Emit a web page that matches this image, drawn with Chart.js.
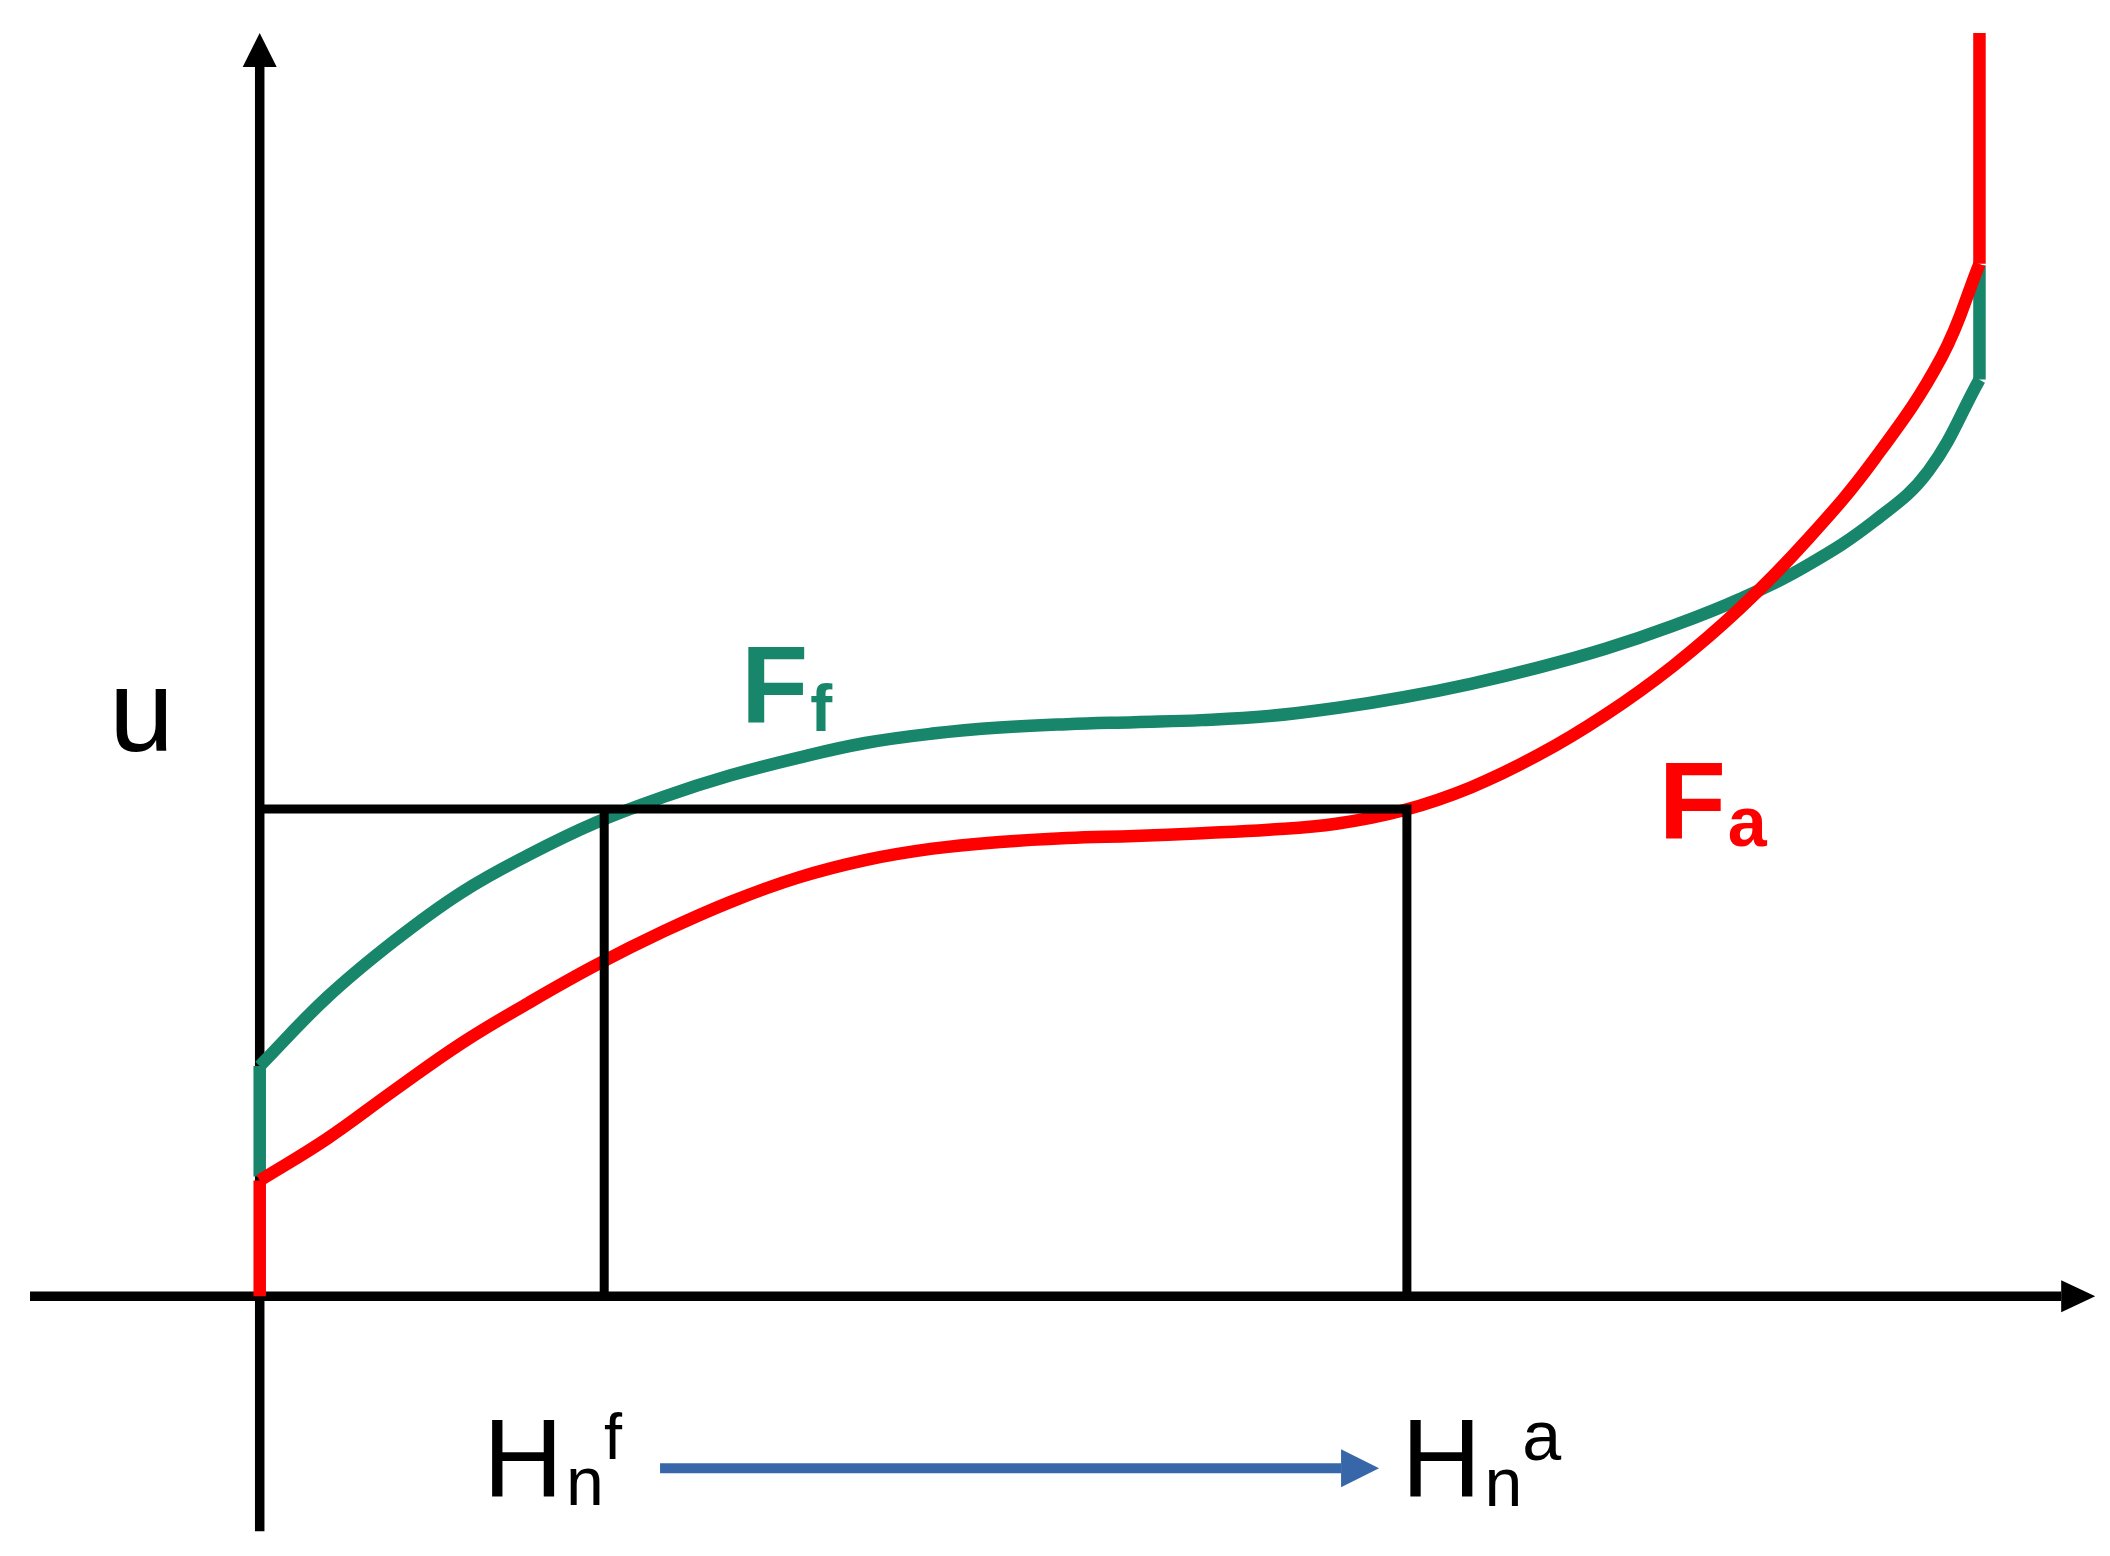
<!DOCTYPE html>
<html>
<head>
<meta charset="utf-8">
<title>Ff / Fa</title>
<script src="https://cdn.jsdelivr.net/npm/chart.js@4.4.1/dist/chart.umd.min.js"></script>
<style>
	html, body { margin: 0; padding: 0; background: #ffffff; }
	canvas { display: block; }
</style>
</head>
<body>
<canvas id="diagram" width="2110" height="1556"></canvas>
<script>
// values (H along x, u along y, origin at the axes crossing)
var greenH = [0, 0.5, 1.0, 1.5, 2.0, 2.5, 3.0, 3.5, 4.0, 4.5, 5.0, 5.5, 6.0, 6.5, 7.0, 7.5, 8.0, 8.5, 9.0, 9.5, 10.0, 10.5, 11.0, 11.5, 12.0, 12.4, 12.78];
var greenU = [1.71, 2.22, 2.64, 3.00, 3.28, 3.52, 3.71, 3.87, 4.00, 4.11, 4.18, 4.225, 4.25, 4.265, 4.28, 4.31, 4.37, 4.45, 4.55, 4.67, 4.81, 4.98, 5.18, 5.43, 5.76, 6.13, 6.81];
var redH = [0, 0.5, 1.0, 1.5, 2.0, 2.5, 3.0, 3.5, 4.0, 4.5, 5.0, 5.5, 6.0, 6.5, 7.0, 7.5, 8.0, 8.5, 9.0, 9.5, 10.0, 10.5, 11.0, 11.5, 12.0, 12.5, 12.78];
var redU = [0.86, 1.17, 1.53, 1.88, 2.18, 2.46, 2.71, 2.93, 3.11, 3.24, 3.325, 3.375, 3.405, 3.42, 3.44, 3.465, 3.51, 3.61, 3.78, 4.02, 4.32, 4.68, 5.11, 5.62, 6.22, 6.98, 7.67];
// vertical jumps at both ends: [h, uFrom, uTo]
var greenJumps = [[0, 0.89, 1.71], [12.78, 6.81, 7.66]];
var redJumps = [[0, 0, 0.86], [12.78, 7.67, 9.385]];
// the chosen level u and the two H values it meets
var uLevel = 3.62;
var hF = 2.56;
var hA = 8.525;

( function () {
	'use strict';

	var GREEN = '#17866a';
	var RED = '#ff0000';
	var BLUE = '#3767a8';
	var FONT = '"Liberation Sans", Arial, sans-serif';

	function pts( xs, ys ) {
		return xs.map( function ( x, i ) { return { x: x, y: ys[ i ] }; } );
	}

	function jumpSets( jumps, colour, order ) {
		return jumps.map( function ( j ) {
			return {
				data: [ { x: j[ 0 ], y: j[ 1 ] }, { x: j[ 0 ], y: j[ 2 ] } ],
				borderColor: colour,
				borderWidth: 12.5,
				tension: 0,
				order: order
			};
		} );
	}

	var datasets = [
		{
			data: [ { x: 0, y: uLevel }, { x: hA, y: uLevel }, { x: hA, y: 0 } ],
			borderColor: '#000000', borderWidth: 9, tension: 0, order: 0,
			borderJoinStyle: 'miter'
		},
		{
			data: [ { x: hF, y: uLevel }, { x: hF, y: 0 } ],
			borderColor: '#000000', borderWidth: 9, tension: 0, order: 0
		},
		{ data: pts( redH, redU ), borderColor: RED, borderWidth: 12.5, tension: 0.4, order: 1 },
		{ data: pts( greenH, greenU ), borderColor: GREEN, borderWidth: 12.5, tension: 0.4, order: 2 }
	].concat( jumpSets( redJumps, RED, 1 ), jumpSets( greenJumps, GREEN, 2 ) );

	datasets.forEach( function ( d ) {
		d.showLine = true;
		d.pointRadius = 0;
		d.borderCapStyle = 'butt';
		d.clip = false;
	} );

	// labels: anchor in data units, pieces placed one after another
	var labels = [
		{ x: -1.12, y: 4.049, color: '#000', parts: [ { t: 'u', size: 117 } ] },
		{ x: 3.577, y: 4.257, color: GREEN, bold: true, parts: [ { t: 'F', size: 110 }, { t: 'f', size: 66, dy: 8, gap: 2 } ] },
		{ x: 10.396, y: 3.40, color: RED, bold: true, parts: [ { t: 'F', size: 110 }, { t: 'a', size: 70, dy: 7, gap: 2 } ] },
		{ x: 1.659, y: -1.49, color: '#000', parts: [ { t: 'H', size: 111 }, { t: 'n', size: 68, dy: 8, gap: 3 }, { t: 'f', size: 65, dy: -38 } ] },
		{ x: 8.483, y: -1.49, color: '#000', parts: [ { t: 'H', size: 111 }, { t: 'n', size: 68, dy: 9, gap: 3 }, { t: 'a', size: 70, dy: -37 } ] }
	];

	function arrow( ctx, x1, y1, x2, y2, width, headLen, headHalf, colour ) {
		var ang = Math.atan2( y2 - y1, x2 - x1 );
		var bx = x2 - Math.cos( ang ) * headLen;
		var by = y2 - Math.sin( ang ) * headLen;
		ctx.save();
		ctx.strokeStyle = colour;
		ctx.fillStyle = colour;
		ctx.lineWidth = width;
		ctx.lineCap = 'butt';
		ctx.beginPath();
		ctx.moveTo( x1, y1 );
		ctx.lineTo( bx, by );
		ctx.stroke();
		ctx.beginPath();
		ctx.moveTo( x2, y2 );
		ctx.lineTo( bx - Math.sin( ang ) * headHalf, by + Math.cos( ang ) * headHalf );
		ctx.lineTo( bx + Math.sin( ang ) * headHalf, by - Math.cos( ang ) * headHalf );
		ctx.closePath();
		ctx.fill();
		ctx.restore();
	}

	var decor = {
		id: 'decor',
		beforeDatasetsDraw: function ( chart ) {
			var ctx = chart.ctx;
			var sx = chart.scales.x, sy = chart.scales.y;
			var ox = sx.getPixelForValue( 0 ), oy = sy.getPixelForValue( 0 );
			// H axis
			arrow( ctx, sx.getPixelForValue( -1.707 ), oy, sx.getPixelForValue( 13.64 ), oy, 9.5, 34, 16, '#000' );
			// u axis
			arrow( ctx, ox, sy.getPixelForValue( -1.747 ), ox, sy.getPixelForValue( 9.385 ), 9.5, 34, 17, '#000' );
		},
		afterDraw: function ( chart ) {
			var ctx = chart.ctx;
			var sx = chart.scales.x, sy = chart.scales.y;

			// shift from Hn^f to Hn^a
			var ay = sy.getPixelForValue( -1.279 );
			arrow( ctx, sx.getPixelForValue( 2.975 ), ay, sx.getPixelForValue( 8.318 ), ay, 10, 38, 19, BLUE );

			ctx.save();
			ctx.textBaseline = 'alphabetic';
			ctx.textAlign = 'left';
			labels.forEach( function ( l ) {
				var px = sx.getPixelForValue( l.x );
				var py = sy.getPixelForValue( l.y );
				ctx.fillStyle = l.color;
				l.parts.forEach( function ( p ) {
					ctx.font = ( l.bold ? 'bold ' : '' ) + p.size + 'px ' + FONT;
					px += p.gap || 0;
					ctx.fillText( p.t, px, py + ( p.dy || 0 ) );
					px += ctx.measureText( p.t ).width;
				} );
			} );
			ctx.restore();
		}
	};

	function init() {
		var canvas = document.getElementById( 'diagram' );
		if ( typeof Chart === 'undefined' || !canvas ) {
			return;
		}

		// eslint-disable-next-line no-new
		new Chart( canvas.getContext( '2d' ), {
			type: 'scatter',
			data: { datasets: datasets },
			options: {
				responsive: false,
				animation: false,
				events: [],
				layout: { padding: 0 },
				plugins: { legend: { display: false }, tooltip: { enabled: false } },
				scales: {
					x: { type: 'linear', min: -1.93, max: 13.75, display: false },
					y: { type: 'linear', min: -1.93, max: 9.63, display: false }
				}
			},
			plugins: [ decor ]
		} );
	}

	if ( document.readyState === 'loading' ) {
		document.addEventListener( 'DOMContentLoaded', init );
	} else {
		init();
	}
} )();
</script>
</body>
</html>
